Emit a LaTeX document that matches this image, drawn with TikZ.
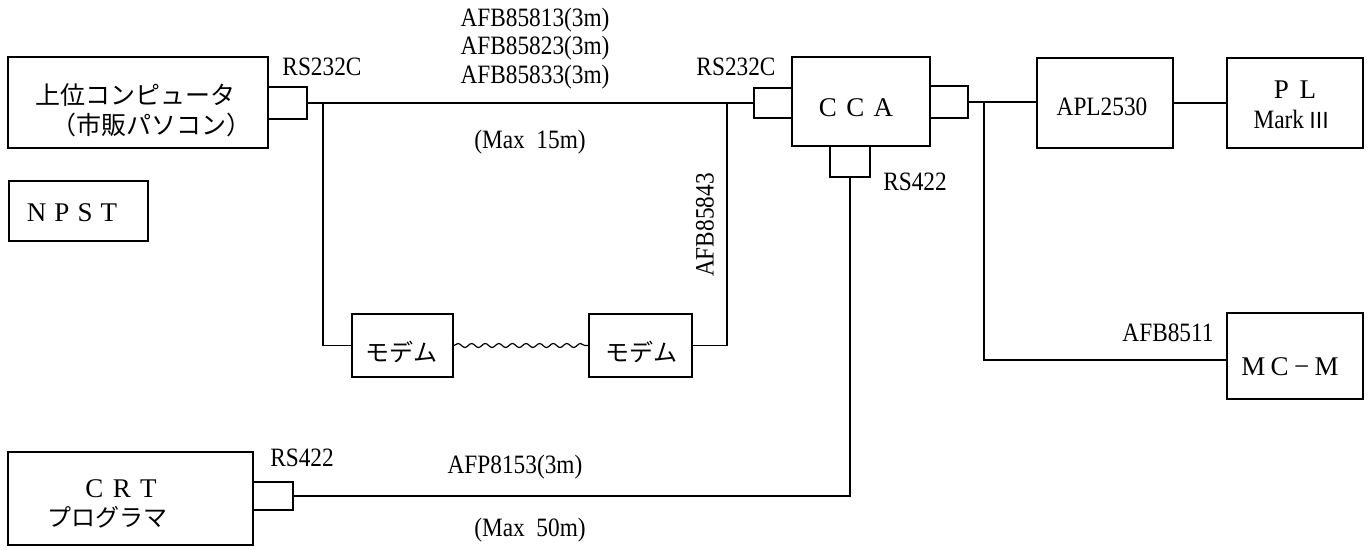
\documentclass[tikz,border=0pt]{standalone}
\usepackage{fontspec}
\setmainfont{Liberation Serif}
\newfontfamily\lab[FakeStretch=0.88]{Liberation Serif}
\newfontfamily\jp{Noto Sans CJK JP}
\usetikzlibrary{decorations.pathmorphing}
\begin{document}
\begin{tikzpicture}[x=1pt,y=-1pt,
  box/.style={draw, line width=1.6pt, rectangle, inner sep=0pt},
  wire/.style={line width=1.6pt},
  lbl/.style={inner sep=0pt, font=\lab\fontsize{26.5}{28}\selectfont},
  big/.style={inner sep=0pt, font=\fontsize{27}{30}\selectfont},
  jtxt/.style={inner sep=0pt, font=\jp\fontsize{25}{28}\selectfont}]
\useasboundingbox (0,0) rectangle (1372,549);
% boxes
\node[box, minimum width=260pt, minimum height=91pt] (host) at (138,102.5) {};
\node[box, minimum width=39pt, minimum height=32pt] (hc) at (287.5,103) {};
\node[box, minimum width=139pt, minimum height=60pt] (npst) at (78.5,211) {};
\node[box, minimum width=138pt, minimum height=89pt] (cca) at (861,101.5) {};
\node[box, minimum width=38pt, minimum height=30pt] (cl) at (773,103) {};
\node[box, minimum width=38pt, minimum height=32pt] (cr) at (949,102) {};
\node[box, minimum width=40pt, minimum height=31pt] (cb) at (850,161.5) {};
\node[box, minimum width=136pt, minimum height=90pt] (apl) at (1105,103) {};
\node[box, minimum width=136pt, minimum height=90pt] (pl) at (1295,103) {};
\node[box, minimum width=136pt, minimum height=86pt] (mcm) at (1295,356) {};
\node[box, minimum width=101pt, minimum height=63pt] (m1) at (402.5,345.5) {};
\node[box, minimum width=103pt, minimum height=63pt] (m2) at (640.5,345.5) {};
\node[box, minimum width=245pt, minimum height=93pt] (crt) at (130.5,498.5) {};
\node[box, minimum width=40pt, minimum height=28pt] (tc) at (273,496) {};
% junctions
\coordinate (j1) at (323,103);
\coordinate (j2) at (727,103);
\coordinate (j3) at (984,102);
% wires
\draw[wire] (hc.east) -- (cl.west);
\draw[wire] (j1) |- (m1.west);
\draw[wire] (m2.east) -| (j2);
\draw[decorate, decoration={snake, segment length=13.6pt, amplitude=2pt}, line width=1.2pt] (m1.east) -- (m2.west);
\draw[wire] (cr.east) -- (apl.west |- cr.east);
\draw[wire] (apl.east) -- (pl.west);
\draw[wire] (j3) |- ([yshift=-4pt]mcm.west);
\draw[wire] (cb.south) |- (tc.east);
% box texts
\node[jtxt] (t1) at (135.5,95) {上位コンピュータ};
\node[jtxt, anchor=east] (t2) at (252,125) {（市販パソコン）};
\node[big] (t3) at (72,213) {N\hspace{0.3em}P\hspace{0.3em}S\hspace{0.3em}T};
\node[big] (t4) at (856,108) {C\hspace{0.35em}C\hspace{0.35em}A};
\node[lbl] (t5) at (1102,107) {APL2530};
\node[big] (t6) at (1295,90) {P\hspace{0.4em}L};
\node[lbl] (t7) at (1292,119) {Mark\,{\jp\fontsize{22}{24}\selectfont Ⅲ}};
\node[big] (t8) at (1290,367) {M\hspace{0.2em}C\hspace{0.2em}−\hspace{0.2em}M};
\node[jtxt, font=\jp\fontsize{24}{26}\selectfont] (t9) at (401.5,352) {モデム};
\node[jtxt, font=\jp\fontsize{24}{26}\selectfont] (t10) at (641.5,352) {モデム};
\node[big] (t11) at (121,489) {C\hspace{0.35em}R\hspace{0.35em}T};
\node[jtxt, font=\jp\fontsize{24}{26}\selectfont] (t12) at (107,517) {プログラマ};
% labels
\node[lbl] (l1) at (322,67) {RS232C};
\node[lbl] (l2) at (736,67) {RS232C};
\node[lbl] (l3) at (535,20) {AFB85813(3m)};
\node[lbl] (l4) at (535,48) {AFB85823(3m)};
\node[lbl] (l5) at (535,77) {AFB85833(3m)};
\node[lbl] (l6) at (530,142) {(Max\ \ 15m)};
\node[lbl, rotate=90] (l7) at (705,225) {AFB85843};
\node[lbl] (l8) at (915,182) {RS422};
\node[lbl] (l9) at (1168,333) {AFB8511};
\node[lbl] (l10) at (302,458) {RS422};
\node[lbl] (l11) at (515,467) {AFP8153(3m)};
\node[lbl] (l12) at (530,530) {(Max\ \ 50m)};
\end{tikzpicture}
\end{document}
